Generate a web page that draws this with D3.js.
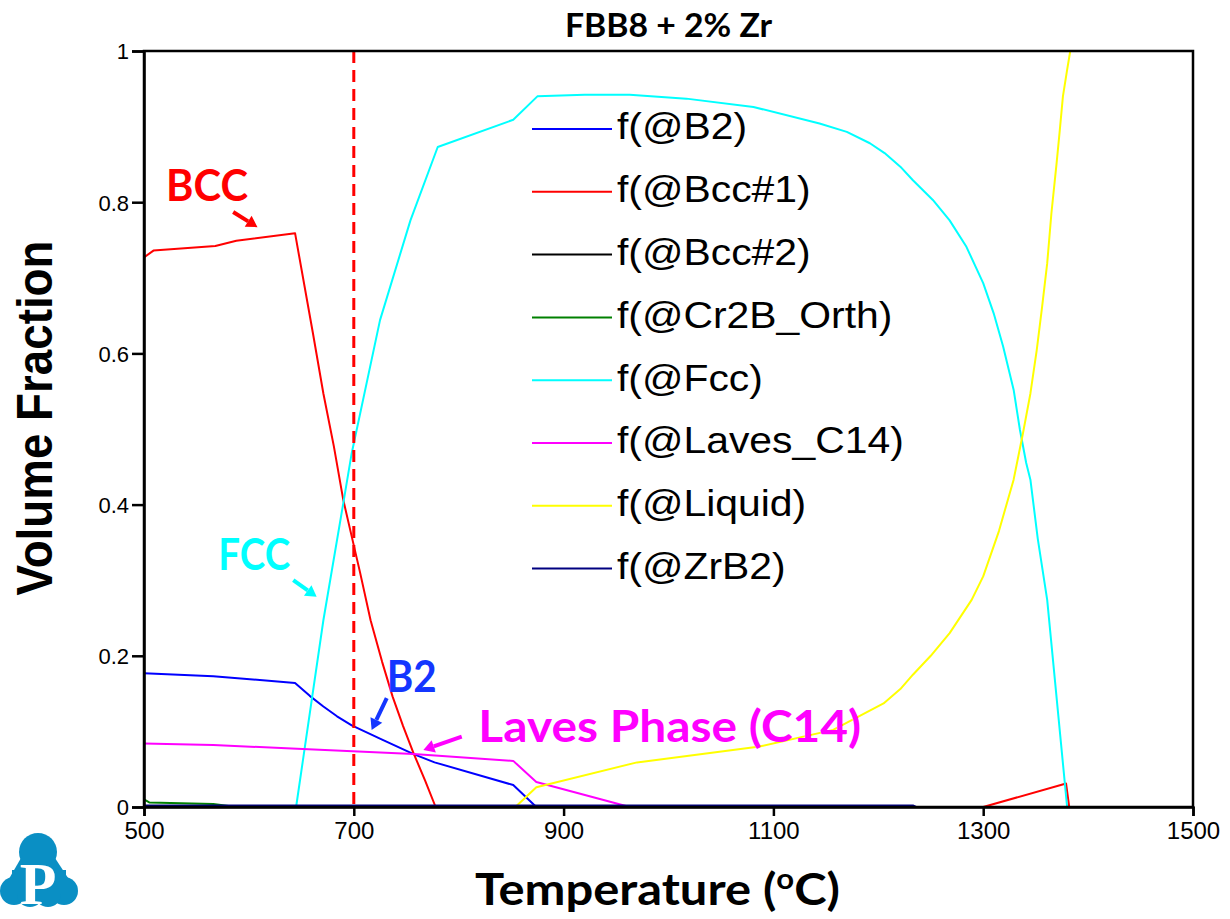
<!DOCTYPE html>
<html><head><meta charset="utf-8">
<script src="https://cdn.jsdelivr.net/npm/d3@7"></script>
<style>body{margin:0;background:#fff} svg{display:block}</style>
</head><body>
<svg id="chart" width="1230" height="919"></svg>
<script>
// Equilibrium phase fractions for FBB8 + 2% Zr (temperature in °C, volume fraction)
const b2T   = [500, 566, 644, 658, 671, 684, 698, 727, 757, 777, 852, 874];
const b2F   = [0.177, 0.173, 0.164, 0.147, 0.133, 0.120, 0.108, 0.089, 0.070, 0.059, 0.029, 0.0];

const bcc1T = [500, 509, 568, 588, 644, 661, 671, 681, 690, 698, 706, 716, 727, 737, 747, 757, 768, 778, 779, 1300, 1379, 1382];
const bcc1F = [0.727, 0.736, 0.742, 0.749, 0.759, 0.627, 0.547, 0.477, 0.406, 0.358, 0.310, 0.247, 0.192, 0.146, 0.107, 0.071, 0.035, 0.0, null, 0.0, 0.031, 0.0];

const bcc2T = [500, 1500];
const bcc2F = [0, 0];

const cr2bT = [500, 505, 566, 588];
const cr2bF = [0.010, 0.006, 0.004, 0.0];

const fccT  = [645, 671, 690, 698, 725, 754, 780, 852, 875, 920, 963, 1017, 1081, 1144, 1170, 1192, 1206, 1221, 1233, 1252, 1268, 1284, 1300, 1310, 1319, 1329, 1335, 1341, 1345, 1352, 1361, 1380];
const fccF  = [0.0, 0.247, 0.402, 0.468, 0.644, 0.776, 0.873, 0.909, 0.940, 0.942, 0.942, 0.937, 0.926, 0.904, 0.893, 0.878, 0.865, 0.847, 0.829, 0.803, 0.776, 0.741, 0.693, 0.653, 0.609, 0.552, 0.499, 0.455, 0.433, 0.355, 0.274, 0.0];

const lavesT = [500, 566, 646, 757, 852, 874, 963];
const lavesF = [0.084, 0.082, 0.077, 0.070, 0.061, 0.033, 0.0];

const liquidT = [854, 874, 970, 1087, 1157, 1205, 1221, 1233, 1250, 1268, 1289, 1300, 1315, 1329, 1338, 1345, 1351, 1356, 1361, 1365, 1370, 1373, 1376, 1380, 1383];
const liquidF = [0.0, 0.026, 0.059, 0.080, 0.102, 0.137, 0.156, 0.175, 0.200, 0.230, 0.274, 0.305, 0.365, 0.433, 0.495, 0.547, 0.604, 0.660, 0.719, 0.785, 0.852, 0.895, 0.940, 0.975, 1.0];

const zrb2T = [500, 1233, 1236];
const zrb2F = [0.002, 0.002, 0.0];

const xTicks = [500, 700, 900, 1100, 1300, 1500];
const yTicks = [0, 0.2, 0.4, 0.6, 0.8, 1];
const yTickLabels = ["0", "0.2", "0.4", "0.6", "0.8", "1"];

const phaseNames  = ["f(@B2)", "f(@Bcc#1)", "f(@Bcc#2)", "f(@Cr2B_Orth)", "f(@Fcc)", "f(@Laves_C14)", "f(@Liquid)", "f(@ZrB2)"];
const phaseColors = ["#0000ff", "#ff0000", "#000000", "#008000", "#00ffff", "#ff00ff", "#ffff00", "#000080"];
const phaseTemps  = [b2T, bcc1T, bcc2T, cr2bT, fccT, lavesT, liquidT, zrb2T];
const phaseFracs  = [b2F, bcc1F, bcc2F, cr2bF, fccF, lavesF, liquidF, zrb2F];

// Phase callouts: text, colour, anchor (T, f) and arrow tail/head (T, f)
const calloutText   = ["BCC", "FCC", "B2", "Laves Phase (C14)"];
const calloutColor  = ["#ff0000", "#00ffff", "#1436ff", "#ff00ff"];
const calloutAt     = [[521, 0.802], [570.8, 0.313], [731.4, 0.1525], [818.7, 0.0864]];
const calloutWidth  = [82, 72, 50, 383];
const arrowFrom     = [[585, 0.787], [642.3, 0.300], [731.4, 0.144], [802.9, 0.093]];
const arrowTo       = [[608.2, 0.767], [664.6, 0.278], [717, 0.102], [766.3, 0.0754]];
const markerTemp = 700;

const svg = d3.select("#chart");
const plotL = 144, plotR = 1193, plotT = 51, plotB = 807;
const x = d3.scaleLinear().domain([500, 1500]).range([plotL, plotR]);
const y = d3.scaleLinear().domain([0, 1]).range([plotB, plotT]);

// stretch a text element horizontally so it spans the given width
function fitWidth(sel, target, anchorX) {
  const w = sel.node().getBBox().width;
  const k = target / w;
  sel.attr("transform", `translate(${anchorX},0) scale(${k},1) translate(${-anchorX},0)`);
}

// phase curves
const line = d3.line()
  .defined(d => d[1] !== null)
  .x(d => x(d[0])).y(d => y(d[1]));

const curves = svg.append("g").attr("fill", "none").attr("stroke-width", 2).attr("stroke-linejoin", "round");
phaseNames.forEach((name, i) => {
  const pts = phaseTemps[i].map((t, j) => [t, phaseFracs[i][j]]);
  curves.append("path").attr("d", line(pts)).attr("stroke", phaseColors[i]);
});

// dashed marker at 700 °C
svg.append("line")
  .attr("x1", x(markerTemp)).attr("x2", x(markerTemp))
  .attr("y1", y(1)).attr("y2", y(0))
  .attr("stroke", "#ff0000").attr("stroke-width", 3).attr("stroke-dasharray", "12,7");

// axes and frame
svg.append("rect").attr("x", plotL).attr("y", plotT).attr("width", plotR - plotL).attr("height", plotB - plotT)
  .attr("fill", "none").attr("stroke", "#000").attr("stroke-width", 2.5);

const xAxis = svg.append("g").attr("transform", `translate(0,${plotB})`)
  .call(d3.axisBottom(x).tickValues(xTicks).tickSize(9).tickPadding(6).tickFormat(d3.format("d")));
const yAxis = svg.append("g").attr("transform", `translate(${plotL},0)`)
  .call(d3.axisLeft(y).tickValues(yTicks).tickSize(12).tickPadding(3).tickFormat((d, i) => yTickLabels[i]));
[xAxis, yAxis].forEach(a => {
  a.select(".domain").attr("stroke-width", 2.5);
  a.selectAll(".tick line").attr("stroke-width", 2.5);
  a.selectAll(".tick text").attr("font-family", "'Liberation Sans', Arial, sans-serif").attr("fill", "#000");
});
xAxis.selectAll(".tick text").attr("font-size", 24);
yAxis.selectAll(".tick text").attr("font-size", 22).attr("dy", "0.36em");

// title
const title = svg.append("text").attr("x", (plotL + plotR) / 2).attr("y", 37)
  .attr("text-anchor", "middle").attr("font-family", "Lato, 'Open Sans', sans-serif")
  .attr("font-weight", 700).attr("font-size", 33).text("FBB8 + 2% Zr");
fitWidth(title, 208, (plotL + plotR) / 2);

// axis titles
const xt = svg.append("text").attr("x", 475).attr("y", 905)
  .attr("font-family", "Lato, 'Open Sans', sans-serif").attr("font-weight", 700).attr("font-size", 44);
xt.append("tspan").text("Temperature (");
xt.append("tspan").attr("font-size", 28).attr("dy", -16).text("o");
xt.append("tspan").attr("dy", 16).text("C)");
fitWidth(xt, 365, 475);

const yt = svg.append("text")
  .attr("transform", "translate(52,418) rotate(-90)")
  .attr("text-anchor", "middle")
  .attr("font-family", "'Liberation Sans', Arial, sans-serif").attr("font-weight", 700).attr("font-size", 49)
  .text("Volume Fraction");
{
  const w = yt.node().getBBox().width;
  yt.attr("transform", `translate(52,418) rotate(-90) scale(${355 / w},1)`);
}

// legend
const legend = svg.append("g");
phaseNames.forEach((name, i) => {
  const ly = 129 + i * 62.8;
  legend.append("line").attr("x1", 532).attr("x2", 612).attr("y1", ly).attr("y2", ly)
    .attr("stroke", phaseColors[i]).attr("stroke-width", 2);
  const t = legend.append("text").attr("x", 617).attr("y", ly + 10.5)
    .attr("font-family", "'Liberation Sans', Arial, sans-serif").attr("font-size", 37.5).attr("fill", "#000")
    .text(name);
  t.attr("transform", `translate(617,0) scale(1.09,1) translate(-617,0)`);
});

// callouts with arrows
const ann = svg.append("g");
calloutText.forEach((txt, i) => {
  const ax = x(calloutAt[i][0]);
  const t = ann.append("text").attr("x", ax).attr("y", y(calloutAt[i][1]))
    .attr("font-family", "Lato, 'Open Sans', sans-serif").attr("font-weight", 700).attr("font-size", 44)
    .attr("fill", calloutColor[i]).text(txt);
  fitWidth(t, calloutWidth[i], ax);

  const x1 = x(arrowFrom[i][0]), y1 = y(arrowFrom[i][1]);
  const x2 = x(arrowTo[i][0]), y2 = y(arrowTo[i][1]);
  const ang = Math.atan2(y2 - y1, x2 - x1);
  const headLen = 11, headW = 6.5;
  const bx = x2 - headLen * Math.cos(ang), by = y2 - headLen * Math.sin(ang);
  ann.append("line").attr("x1", x1).attr("y1", y1).attr("x2", bx).attr("y2", by)
    .attr("stroke", calloutColor[i]).attr("stroke-width", 4);
  const px = -Math.sin(ang), py = Math.cos(ang);
  ann.append("path")
    .attr("d", `M${x2},${y2}L${bx + headW * px},${by + headW * py}L${bx - headW * px},${by - headW * py}Z`)
    .attr("fill", calloutColor[i]);
});

// logo
const logo = svg.append("g").attr("fill", "#0a8fc4");
logo.append("circle").attr("cx", 38).attr("cy", 852).attr("r", 19);
logo.append("circle").attr("cx", 14).attr("cy", 891).attr("r", 14);
logo.append("circle").attr("cx", 64).attr("cy", 891).attr("r", 14);
logo.append("circle").attr("cx", 30).attr("cy", 894).attr("r", 13);
logo.append("circle").attr("cx", 48).attr("cy", 894).attr("r", 13);
logo.append("path").attr("d", "M21,858 L55,858 L72,884 L6,884 Z");
logo.append("rect").attr("x", 12).attr("y", 870).attr("width", 54).attr("height", 24);
svg.append("text").attr("x", 38).attr("y", 904).attr("text-anchor", "middle")
  .attr("font-family", "'Liberation Serif', 'DejaVu Serif', serif").attr("font-weight", 700)
  .attr("font-size", 60).attr("fill", "#fff").text("P");
</script>
</body></html>
